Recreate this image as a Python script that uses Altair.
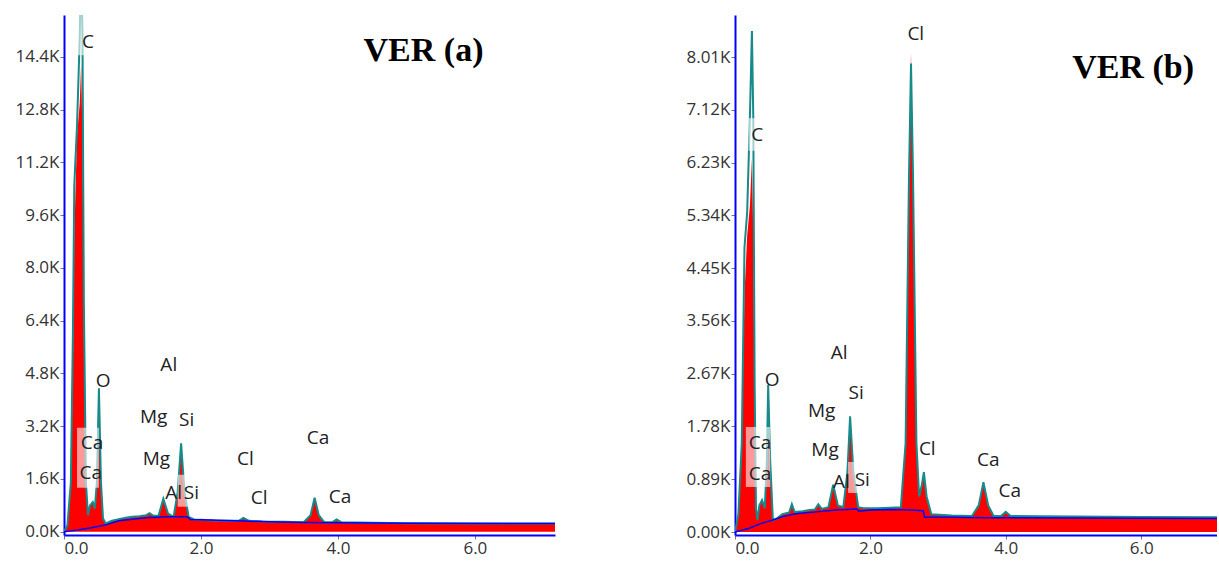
import altair as alt
import pandas as pd

# ---------------- Panel (a) ----------------
energy_a = [0.00, 0.05, 0.10, 0.13, 0.15, 0.19, 0.23, 0.25, 0.27, 0.29, 0.32, 0.35, 0.38, 0.42,
            0.45, 0.48, 0.51, 0.54, 0.57, 0.61, 0.70, 0.80, 0.90, 1.00, 1.10, 1.20, 1.25, 1.30,
            1.38, 1.45, 1.52, 1.60, 1.66, 1.71, 1.76, 1.82, 1.90, 2.00, 2.20, 2.40, 2.55, 2.62,
            2.70, 2.90, 3.20, 3.50, 3.60, 3.66, 3.72, 3.80, 3.92, 3.98, 4.05, 4.50, 5.00, 6.00, 7.20]
# measured spectrum (teal outline)
counts_a = [0, 200, 1500, 6000, 10500, 12300, 15000, 17500, 15000, 7000, 1500, 500, 800, 900,
            700, 1500, 4350, 1500, 400, 250, 330, 380, 420, 450, 470, 500, 560, 490,
            480, 1000, 550, 450, 1200, 2680, 1200, 450, 370, 360, 340, 330, 330, 420,
            330, 310, 300, 290, 500, 1030, 500, 290, 290, 370, 290, 270, 260, 250, 250]
# red filled spectrum (lower at the C peak)
fill_a = [0, 200, 1500, 5000, 9000, 12000, 13000, 14200, 12000, 6000, 1500, 500, 800, 900,
          700, 1500, 4200, 1500, 400, 250, 330, 380, 420, 450, 470, 500, 560, 490,
          480, 1000, 550, 450, 1200, 2650, 1200, 450, 370, 360, 340, 330, 330, 420,
          330, 310, 300, 290, 500, 1030, 500, 290, 290, 370, 290, 270, 260, 250, 250]
bg_energy_a = [0.0, 0.2, 0.4, 0.6, 0.8, 1.0, 1.2, 1.5, 1.8, 1.85, 2.0, 2.5, 3.0, 3.5, 4.0, 5.0, 7.2]
bg_counts_a = [0, 50, 120, 200, 330, 380, 420, 450, 450, 370, 360, 330, 300, 280, 270, 255, 250]
label_text_a = ["C", "O", "Al", "Mg", "Si", "Ca", "Ca", "Mg", "Cl", "Ca", "Al", "Si", "Cl", "Ca"]
label_x_a = [0.35, 0.57, 1.53, 1.31, 1.79, 0.41, 0.39, 1.35, 2.65, 3.71, 1.60, 1.86, 2.85, 4.03]
label_y_a = [14850, 4580, 5060, 3480, 3390, 2700, 1790, 2210, 2210, 2850, 1180, 1180, 1030, 1060]
box_x1_a = [0.17, 0.19, 1.66]
box_x2_a = [0.50, 0.51, 1.97]
box_y1_a = [14450, 1330, 760]
box_y2_a = [15670, 3150, 1730]
yticks_a = [0, 1600, 3200, 4800, 6400, 8000, 9600, 11200, 12800, 14400]

# ---------------- Panel (b) ----------------
energy_b = [0.00, 0.05, 0.10, 0.14, 0.18, 0.22, 0.25, 0.27, 0.29, 0.31, 0.33, 0.36, 0.40, 0.44,
            0.47, 0.49, 0.52, 0.56, 0.62, 0.70, 0.80, 0.84, 0.88, 1.00, 1.10, 1.18, 1.23, 1.28,
            1.38, 1.45, 1.52, 1.60, 1.66, 1.70, 1.75, 1.82, 1.90, 2.10, 2.30, 2.45, 2.52, 2.57,
            2.60, 2.63, 2.68, 2.72, 2.76, 2.79, 2.83, 2.90, 3.20, 3.50, 3.60, 3.67, 3.74, 3.82,
            3.93, 4.00, 4.07, 4.50, 5.00, 6.00, 7.20]
counts_b = [0, 300, 1500, 4800, 5400, 7000, 8450, 7000, 2500, 400, 200, 450, 540, 400,
            1200, 2480, 1200, 200, 230, 300, 330, 470, 340, 350, 370, 380, 470, 390,
            420, 800, 450, 420, 1000, 1950, 1000, 420, 400, 400, 410, 420, 1500, 6000,
            7900, 6000, 1500, 600, 800, 1010, 600, 300, 280, 270, 450, 840, 450, 270,
            270, 340, 270, 265, 260, 255, 250]
fill_b = [0, 300, 1500, 4000, 5000, 5500, 6300, 5000, 2000, 400, 200, 450, 540, 400,
          1200, 2400, 1200, 200, 230, 300, 330, 470, 340, 350, 370, 380, 470, 390,
          420, 800, 450, 420, 1000, 1900, 1000, 420, 400, 400, 410, 420, 1500, 6000,
          8090, 6000, 1500, 600, 800, 1010, 600, 300, 280, 270, 450, 840, 450, 270,
          270, 340, 270, 265, 260, 255, 250]
bg_energy_b = [0.0, 0.2, 0.4, 0.55, 0.7, 0.9, 1.2, 1.5, 1.8, 1.83, 2.0, 2.3, 2.6, 2.78, 2.80,
               3.2, 3.7, 4.0, 5.0, 7.2]
bg_counts_b = [0, 60, 150, 200, 260, 310, 340, 370, 390, 350, 370, 380, 370, 360, 250,
               250, 240, 240, 235, 230]
label_text_b = ["C", "Cl", "O", "Al", "Mg", "Si", "Ca", "Ca", "Mg", "Al", "Si", "Cl", "Ca", "Ca"]
label_x_b = [0.33, 2.67, 0.55, 1.54, 1.28, 1.79, 0.37, 0.37, 1.33, 1.57, 1.88, 2.84, 3.74, 4.06]
label_y_b = [6700, 8400, 2560, 3020, 2040, 2340, 1500, 980, 1380, 840, 880, 1400, 1210, 690]
box_x1_b = [0.20, 0.16, 1.67]
box_x2_b = [0.55, 0.52, 2.00]
box_y1_b = [6430, 760, 660]
box_y2_b = [6980, 1770, 1180]
yticks_b = [0, 890, 1780, 2670, 3560, 4450, 5340, 6230, 7120, 8010]

xticks = [0, 2, 4, 6]

TICK_FONT = "Open Sans"
RED = "#ff0000"
TEAL = "#178a8a"
BLUE = "#0000ff"


def panel(energy, counts, fill, bg_e, bg_c, lt, lx, ly, bx1, bx2, by1, by2, yticks, ydom, xmax,
          yfmt, title, tx, ty, width):
    spec = pd.DataFrame({"e": energy, "c": counts})
    red = pd.DataFrame({"e": energy, "c": fill})
    bg = pd.DataFrame({"e": bg_e, "c": bg_c})
    labels = pd.DataFrame({"t": lt, "e": lx, "c": ly})
    boxes = pd.DataFrame({"e": bx1, "e2": bx2, "c": by1, "c2": by2})
    ttl = pd.DataFrame({"t": [title], "e": [tx], "c": [ty]})

    xs = alt.Scale(domain=[0, xmax], nice=False, zero=False)
    ys = alt.Scale(domain=ydom, nice=False, zero=False)
    xaxis = alt.Axis(values=xticks, format=".1f", title=None, grid=False,
                     domainColor=BLUE, domainWidth=2, tickColor="#777", tickSize=4,
                     labelFontSize=17, labelColor="#333", labelFont=TICK_FONT, labelPadding=1)
    yaxis = alt.Axis(values=yticks, title=None, grid=False,
                     labelExpr=f"format(datum.value/1000, '{yfmt}') + 'K'",
                     domainColor=BLUE, domainWidth=2, tickColor="#777", tickSize=4,
                     labelFontSize=17, labelColor="#333", labelFont=TICK_FONT, labelPadding=1)

    area = alt.Chart(red).mark_area(color=RED, clip=True, opacity=1)
    line = alt.Chart(spec).mark_line(color=TEAL, strokeWidth=2, clip=True)
    bgl = alt.Chart(bg).mark_line(color=BLUE, strokeWidth=1.5, clip=True)
    rect = alt.Chart(boxes).mark_rect(color="white", opacity=0.6, clip=True).encode(
        x2="e2:Q", y2="c2:Q")
    txt = alt.Chart(labels).mark_text(font=TICK_FONT, fontSize=19, color="#222",
                                      align="center", baseline="middle").encode(text="t:N")
    ttxt = alt.Chart(ttl).mark_text(font="Liberation Serif", fontSize=34, fontWeight="bold",
                                    color="black", align="center",
                                    baseline="alphabetic").encode(text="t:N")
    return alt.layer(area, line, bgl, rect, txt, ttxt).encode(
        x=alt.X("e:Q", scale=xs, axis=xaxis),
        y=alt.Y("c:Q", scale=ys, axis=yaxis),
    ).properties(width=width, height=520)


left = panel(energy_a, counts_a, fill_a, bg_energy_a, bg_counts_a, label_text_a, label_x_a,
             label_y_a, box_x1_a, box_x2_a, box_y1_a, box_y2_a, yticks_a, [-100, 15670], 7.17,
             ".1f", "VER (a)", 5.25, 14270, 491)
right = panel(energy_b, counts_b, fill_b, bg_energy_b, bg_counts_b, label_text_b, label_x_b,
              label_y_b, box_x1_b, box_x2_b, box_y1_b, box_y2_b, yticks_b, [-50, 8720], 7.12,
              ".2f", "VER (b)", 5.88, 7660, 482)

chart = alt.hconcat(left, right, spacing=130).properties(
    padding={"left": 14, "top": 15, "right": 0, "bottom": 5},
    background="white",
).configure_view(stroke=None)

chart.save("out.html", embed_options={"renderer": "svg", "actions": False})
